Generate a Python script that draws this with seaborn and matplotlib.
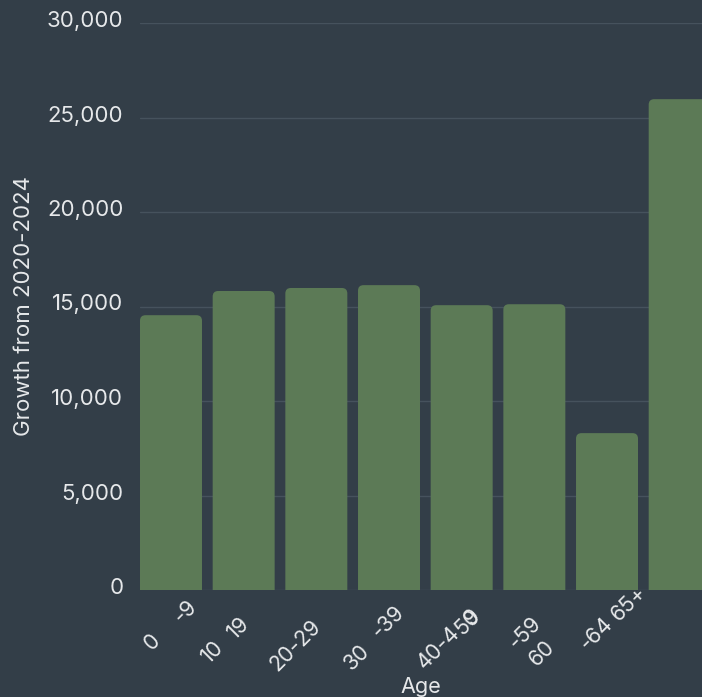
import matplotlib
matplotlib.use("Agg")
import matplotlib.pyplot as plt
import matplotlib.transforms as mtransforms
from matplotlib.patches import FancyBboxPatch
import seaborn as sns

# Data
age_groups = ["0-9", "10-19", "20-29", "30-39", "40-49", "50-59", "60-64", "65+"]
growth = [14540, 15820, 15980, 16130, 15070, 15120, 8300, 25970]
y_ticks = [0, 5000, 10000, 15000, 20000, 25000, 30000]

# x tick labels as they appear in the picture (split / overlapping pieces)
label_texts = ["0", "-9", "10", "19", "20-29", "30", "-39", "40-4", "50", "9",
               "-59", "60", "-64", "65+"]
label_ticks = [0, 0, 1, 1, 2, 3, 3, 4, 4, 4, 5, 5, 6, 6]
# layout: pixel offset of each piece's centre from (tick, axis line)
label_offsets = [(-19, 52), (14, 22), (-31, 62), (-5, 38), (-21, 55), (-32, 67),
                 (-1, 32), (-23, 58), (6, 32), (11, 27), (-9, 43), (8, 63),
                 (-11, 44), (22, 13)]

bg = "#333e48"
bar_color = "#5c7a56"
grid_color = "#46525d"
text_color = "#e6e8ea"

sns.set_theme(style="dark")
plt.rcParams["font.family"] = ["Inter", "DejaVu Sans"]

W, H, DPI = 702, 697, 100
fig = plt.figure(figsize=(W / DPI, H / DPI), dpi=DPI, facecolor=bg)
ax_left, ax_bottom, ax_w, ax_h = 140, 107, 562, 567
ax = fig.add_axes([ax_left / W, ax_bottom / H, ax_w / W, ax_h / H])
ax.set_facecolor(bg)

bar_width = 0.853
sns.barplot(x=age_groups, y=growth, color=bar_color, saturation=1,
            width=bar_width, ax=ax, zorder=3)

xlim = (-bar_width / 2, -bar_width / 2 + ax_w / 72.67)
ylim = (0, 30000)
ax.set_xlim(*xlim)
ax.set_ylim(*ylim)

# rounded top corners
ppx = ax_w / (xlim[1] - xlim[0])
ppy = ax_h / (ylim[1] - ylim[0])
radius_px = 5.5
rs = radius_px / ppx
aspect = ppx / ppy
for p in list(ax.patches):
    x, y = p.get_x(), p.get_y()
    w, h = p.get_width(), p.get_height()
    extra = radius_px / ppy
    rounded = FancyBboxPatch((x, y - extra), w, h + extra,
                             boxstyle=f"round,pad=0,rounding_size={rs}",
                             mutation_aspect=aspect, facecolor=bar_color,
                             edgecolor="none", zorder=3)
    p.remove()
    ax.add_patch(rounded)

# grid and axes styling
ax.set_yticks(y_ticks)
ax.set_yticklabels([f"{v:,}" for v in y_ticks])
ax.yaxis.grid(True, color=grid_color, linewidth=1)
ax.xaxis.grid(False)
ax.set_axisbelow(True)
for s in ax.spines.values():
    s.set_visible(False)
ax.tick_params(axis="y", length=0, pad=12, labelsize=16, labelcolor=text_color)
ax.tick_params(axis="x", length=0)
ax.set_xticks(range(len(age_groups)))
ax.set_xticklabels([])

shift = mtransforms.ScaledTranslation(0, 4 / DPI, fig.dpi_scale_trans)
for lab in ax.get_yticklabels():
    lab.set_transform(lab.get_transform() + shift)

for txt, t, (dx, dy) in zip(label_texts, label_ticks, label_offsets):
    ax.annotate(txt, xy=(t, 0), xycoords="data", xytext=(dx, -dy),
                textcoords="offset pixels", ha="center", va="center",
                rotation=45, rotation_mode="anchor", fontsize=15.5,
                color=text_color, annotation_clip=False)

ax.set_xlabel("Age", fontsize=15.5, color=text_color)
ax.xaxis.set_label_coords(0.5, -0.153)
ax.set_ylabel("Growth from 2020-2024", fontsize=16, color=text_color)
ax.yaxis.set_label_coords(-0.189, 0.5)

fig.savefig("out.png", dpi=DPI, facecolor=bg)
